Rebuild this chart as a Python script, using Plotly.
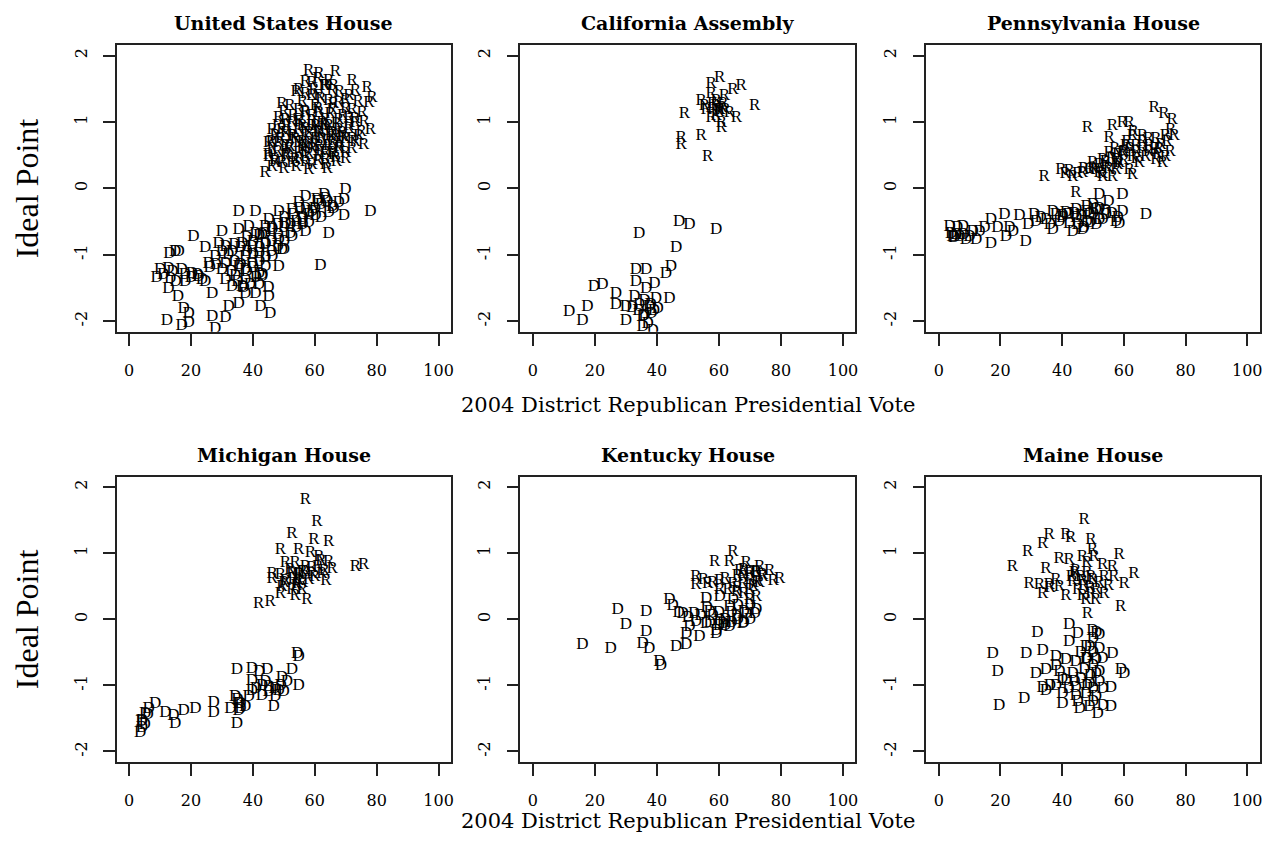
import plotly.graph_objects as go

# ---------------- data (x = 2004 district Republican presidential vote, y = ideal point) ----------------
us_r_x = [58.0, 61.3, 66.7, 64.5, 72.1, 76.9, 73.1, 54.8, 59.7, 57.0, 65.6, 69.9, 78.5, 77.5, 49.4, 48.3, 50.5,
          54.8, 60.2, 65.6, 72.1, 75.3, 78.0, 74.2, 75.8, 46.2, 47.2, 54.8, 59.1, 63.4, 67.7, 71.0, 45.1, 46.2,
          50.5, 54.8, 60.2, 65.6, 69.9, 45.1, 47.2, 50.5, 54.8, 59.1, 63.4, 67.7, 63.4, 66.7, 59.1, 63.4, 46.2,
          44.0, 49.4, 52.6, 57.0, 61.3, 54.8, 59.1, 63.4, 67.7, 52.6, 57.0, 65.6, 61.3, 50.5, 69.9, 72.1, 55.9,
          58.0, 60.2, 62.3, 64.5, 53.7, 55.9, 58.0, 62.3, 64.5, 66.7, 68.8, 51.6, 53.7, 57.0, 61.3, 65.6, 48.3,
          49.4, 52.6, 57.0, 61.3, 64.5, 67.7, 61.3, 63.4, 59.1, 71.0, 73.1, 68.2,
          52, 56, 62, 66, 70, 68, 63, 57, 61, 59, 53, 57, 61, 65, 69, 73, 51, 55, 59, 63, 67, 71, 75,
          49, 53, 57, 61, 65, 69, 73, 48, 52, 56, 60, 64, 68, 72, 47, 51, 55, 58, 62, 66, 70, 50, 54, 57, 61,
          64, 67, 46, 48, 50, 54, 66, 71, 74, 76, 45, 58]
us_r_y = [1.77, 1.72, 1.75, 1.62, 1.62, 1.52, 1.47, 1.49, 1.49, 1.42, 1.47, 1.34, 1.37, 1.29, 1.27, 1.07, 1.04,
          1.19, 1.24, 1.19, 1.19, 1.14, 0.89, 0.79, 0.66, 0.89, 0.79, 0.89, 0.94, 0.89, 0.89, 0.94, 0.69, 0.59,
          0.64, 0.69, 0.74, 0.69, 0.74, 0.48, 0.43, 0.48, 0.54, 0.59, 0.54, 0.59, 0.43, 0.46, 0.36, 0.36, 0.33,
          0.23, 0.38, 0.38, 0.79, 0.84, 1.04, 1.09, 1.04, 1.04, 0.79, 0.64, 0.84, 0.64, 0.84, 0.54, 0.74, 0.94,
          0.84, 0.94, 0.99, 0.94, 0.74, 0.59, 0.69, 0.74, 0.64, 0.79, 0.84, 0.59, 0.43, 0.48, 0.48, 0.54, 0.69,
          0.89, 0.99, 1.14, 1.14, 1.32, 1.29, 1.39, 1.54, 1.59, 1.07, 0.99, 0.69,
          1.25, 1.30, 1.35, 1.28, 1.20, 1.45, 1.55, 1.60, 1.65, 1.40, 1.10, 1.15, 1.20, 1.12, 1.10, 1.05, 0.95,
          1.00, 1.02, 0.96, 0.98, 0.90, 0.85, 0.75, 0.80, 0.90, 0.86, 0.80, 0.78, 0.70, 0.55, 0.62, 0.70, 0.66,
          0.72, 0.62, 0.60, 0.40, 0.50, 0.45, 0.52, 0.56, 0.50, 0.45, 0.30, 0.32, 0.40, 0.42, 0.30, 0.40, 0.70,
          0.95, 1.15, 1.45, 1.55, 1.40, 1.30, 1.00, 0.50, 0.28]
us_d_x = [69.9, 69.4, 67.7, 63.4, 60.7, 57.0, 54.8, 78.0, 69.4, 64.5, 59.1, 52.6, 48.3, 40.8, 35.4, 64.5, 57.0,
          50.5, 45.1, 44.0, 40.8, 35.4, 30.0, 20.8, 28.9, 24.6, 31.1, 36.5, 39.7, 44.0, 48.3, 52.6, 49.4, 46.2,
          41.9, 37.5, 33.2, 27.8, 25.7, 31.1, 35.4, 39.7, 44.0, 48.3, 61.8, 16.0, 14.9, 12.7, 10.0, 8.9, 13.3,
          17.0, 20.3, 18.1, 23.5, 24.6, 12.7, 15.8, 33.2, 37.5, 40.8, 41.9, 36.5, 26.8, 31.1, 37.5, 42.9, 45.1,
          35.4, 32.2, 42.4, 45.6, 17.6, 19.2, 12.2, 17.0, 19.2, 26.8, 31.1, 27.8, 50.0, 38.6, 42.9, 46.2, 55.9,
          60.2, 65.6, 41.9, 30.0, 22.4, 37.5, 34.3,
          36, 38, 40, 42, 44, 46, 48, 50, 52, 54, 56, 58, 60, 62, 64, 66, 40, 42, 44, 46, 48, 50, 52, 54, 56,
          58, 62, 38, 40, 42, 44, 46, 48, 50, 53, 55, 57, 61, 63, 32, 34, 36, 38, 33, 35, 37, 39, 41, 43, 28,
          26, 22, 20, 18, 15, 14, 11, 13, 45, 30, 34]
us_d_y = [-0.02, -0.17, -0.22, -0.15, -0.17, -0.12, -0.22, -0.35, -0.42, -0.37, -0.35, -0.32, -0.35, -0.35,
          -0.36, -0.68, -0.65, -0.53, -0.47, -0.58, -0.68, -0.63, -0.65, -0.73, -0.83, -0.90, -0.88, -0.83,
          -0.88, -0.83, -0.78, -0.73, -0.93, -1.03, -0.98, -1.03, -0.95, -1.03, -1.13, -1.13, -1.18, -1.13,
          -1.18, -1.18, -1.16, -0.95, -0.95, -1.21, -1.22, -1.34, -1.36, -1.23, -1.28, -1.41, -1.38, -1.41,
          -1.51, -1.64, -1.48, -1.59, -1.59, -1.46, -1.48, -1.59, -1.38, -1.38, -1.33, -1.64, -1.74, -1.79,
          -1.79, -1.89, -1.81, -1.89, -1.99, -2.07, -2.02, -1.94, -1.95, -2.12, -0.93, -0.58, -0.70, -0.63,
          -0.47, -0.42, -0.27, -1.28, -1.23, -1.33, -1.23, -1.31,
          -0.90, -0.95, -1.00, -0.90, -0.85, -0.80, -0.70, -0.60, -0.55, -0.50, -0.45, -0.40, -0.30, -0.25,
          -0.20, -0.30, -1.20, -1.10, -1.05, -0.95, -0.88, -0.80, -0.68, -0.60, -0.55, -0.52, -0.45, -0.75,
          -0.80, -0.72, -0.68, -0.60, -0.55, -0.45, -0.40, -0.30, -0.30, -0.20, -0.10, -1.00, -1.10, -1.15,
          -1.25, -1.25, -1.40, -1.50, -1.45, -1.35, -1.30, -1.15, -1.20, -1.30, -1.35, -1.30, -1.40, -1.25,
          -1.30, -0.98, -1.50, -0.95, -0.85]

ca_r_x = [60.2, 57.5, 64.5, 67.2, 71.5, 54.3, 57.5, 59.1, 61.3, 55.9, 60.2, 63.4, 65.6, 57.5, 60.8, 60.8, 48.9,
          47.8, 47.8, 54.3, 56.4, 55.3, 61.8, 59.1, 58, 59, 60, 61, 58, 62]
ca_r_y = [1.67, 1.57, 1.49, 1.55, 1.24, 1.32, 1.42, 1.32, 1.27, 1.19, 1.19, 1.14, 1.07, 1.07, 0.99, 0.91, 1.12,
          0.76, 0.66, 0.79, 0.48, 1.24, 1.39, 1.09, 1.20, 1.25, 1.15, 1.22, 1.28, 1.18]
ca_d_x = [47.2, 50.5, 59.1, 34.3, 46.2, 44.5, 42.9, 36.5, 33.2, 39.2, 33.2, 22.4, 19.7, 26.8, 32.7, 36.5, 39.7,
          44.0, 26.8, 30.0, 34.3, 37.5, 40.2, 11.7, 17.6, 16.0, 30.0, 35.4, 37.0, 35.4, 38.1, 38.6,
          36, 38, 34, 36, 39, 32]
ca_d_y = [-0.50, -0.55, -0.63, -0.68, -0.90, -1.18, -1.28, -1.23, -1.23, -1.43, -1.41, -1.46, -1.48, -1.59,
          -1.64, -1.51, -1.66, -1.66, -1.76, -1.79, -1.76, -1.79, -1.81, -1.86, -1.79, -1.99, -1.99, -1.94,
          -2.04, -2.09, -1.89, -2.14, -1.70, -1.75, -1.85, -1.92, -1.85, -1.80]

pa_r_x = [69.8, 73.0, 75.7, 75.2, 76.3, 48.2, 56.3, 59.5, 61.7, 55.2, 62.8, 66.0, 70.4, 73.5, 63.9, 68.2, 71.4,
          59.5, 62.8, 67.1, 70.4, 73.5, 72.5, 55.2, 57.4, 53.1, 49.9, 48.8, 46.6, 39.6, 42.3, 43.4, 34.2, 50.9,
          54.2, 57.4, 61.7, 62.8, 44.5, 53.1, 56.3, 58.5, 65.0, 60.6, 52.0,
          50, 52, 54, 56, 58, 60, 62, 64, 66, 68, 70, 72, 74, 66, 64, 60, 58, 55, 53, 47, 45, 41, 63, 68, 71,
          75, 57, 61]
pa_r_y = [1.22, 1.12, 1.04, 0.89, 0.79, 0.91, 0.94, 0.99, 0.99, 0.76, 0.79, 0.79, 0.74, 0.79, 0.64, 0.64, 0.59,
          0.54, 0.48, 0.48, 0.43, 0.48, 0.38, 0.54, 0.43, 0.43, 0.38, 0.28, 0.23, 0.28, 0.26, 0.18, 0.18, 0.28,
          0.33, 0.28, 0.28, 0.21, -0.07, 0.18, 0.18, 0.38, 0.38, 0.64, 0.23,
          0.30, 0.35, 0.40, 0.45, 0.50, 0.55, 0.60, 0.55, 0.60, 0.55, 0.60, 0.65, 0.70, 0.70, 0.45, 0.42, 0.35,
          0.30, 0.22, 0.30, 0.22, 0.22, 0.85, 0.75, 0.50, 0.55, 0.60, 0.70]
pa_d_x = [52.0, 59.5, 67.1, 59.5, 57.4, 58.5, 54.2, 50.9, 47.9, 44.5, 41.2, 36.9, 39.0, 42.3, 47.9, 52.0, 46.6,
          43.4, 36.9, 31.5, 30.9, 26.1, 21.3, 16.9, 22.9, 21.8, 28.2, 16.9, 13.2, 12.1, 8.8, 7.8, 3.5, 5.6, 4.5,
          6.7, 9.9, 14.8, 34.7, 40.1, 48.8, 44.5,
          40, 42, 44, 46, 48, 50, 52, 54, 56, 58, 45, 47, 49, 51, 53, 38, 36, 33, 29, 24, 19, 11, 6, 4, 5, 8,
          50, 55]
pa_d_y = [-0.10, -0.10, -0.40, -0.35, -0.50, -0.53, -0.40, -0.32, -0.27, -0.32, -0.37, -0.35, -0.50, -0.53,
          -0.50, -0.47, -0.63, -0.65, -0.63, -0.50, -0.40, -0.42, -0.40, -0.47, -0.60, -0.73, -0.80, -0.83,
          -0.65, -0.78, -0.78, -0.58, -0.58, -0.70, -0.73, -0.73, -0.73, -0.60, -0.47, -0.42, -0.40, -0.45,
          -0.45, -0.40, -0.38, -0.42, -0.35, -0.38, -0.30, -0.33, -0.38, -0.45, -0.55, -0.60, -0.52, -0.55,
          -0.48, -0.40, -0.55, -0.45, -0.55, -0.65, -0.60, -0.65, -0.60, -0.68, -0.75, -0.70, -0.25, -0.20]

mi_r_x = [57.0, 60.7, 52.6, 59.7, 64.5, 48.9, 54.8, 58.6, 61.3, 64.5, 65.6, 73.1, 75.8, 50.5, 53.7, 57.0, 46.2,
          48.9, 52.6, 55.9, 59.1, 62.3, 46.2, 50.5, 54.8, 63.6, 49.4, 52.6, 55.9, 48.9, 53.7, 57.5, 41.9, 45.6,
          54.8, 54.3, 53, 55, 57, 59, 61, 63, 56, 54, 58, 60, 52, 62, 50]
mi_r_y = [1.81, 1.48, 1.30, 1.20, 1.18, 1.05, 1.05, 1.00, 0.95, 0.87, 0.77, 0.79, 0.82, 0.85, 0.85, 0.79, 0.69,
          0.67, 0.69, 0.72, 0.69, 0.69, 0.62, 0.59, 0.59, 0.59, 0.49, 0.44, 0.44, 0.39, 0.36, 0.29, 0.24, 0.26,
          0.69, 0.54, 0.62, 0.68, 0.72, 0.78, 0.80, 0.74, 0.55, 0.50, 0.60, 0.65, 0.75, 0.88, 0.55]
mi_d_x = [54.3, 54.8, 34.8, 39.7, 44.6, 52.6, 49.4, 54.8, 39.7, 39.7, 42.9, 45.1, 48.3, 49.9, 47.2, 46.7, 37.5,
          35.4, 34.3, 38.6, 32.7, 27.3, 27.3, 21.4, 17.6, 14.3, 14.9, 11.7, 8.4, 6.3, 5.2, 4.1, 4.1, 3.6, 34.8,
          35.4, 41, 43, 45, 47, 49, 51, 36, 36, 35, 42, 44, 5, 4, 6]
mi_d_y = [-0.52, -0.57, -0.77, -0.75, -0.77, -0.77, -0.88, -1.00, -0.93, -1.08, -1.15, -1.10, -1.08, -1.10,
          -1.18, -1.33, -1.33, -1.28, -1.18, -1.18, -1.36, -1.26, -1.41, -1.36, -1.38, -1.46, -1.58, -1.41,
          -1.28, -1.36, -1.43, -1.53, -1.64, -1.71, -1.58, -1.38, -1.05, -1.00, -1.02, -1.05, -1.00, -0.95,
          -1.28, -1.35, -1.22, -0.80, -0.95, -1.60, -1.55, -1.45]

ky_r_x = [64.5, 58.6, 63.4, 68.8, 73.1, 76.4, 79.6, 77.5, 72.1, 69.9, 66.7, 52.6, 52.6, 56.4, 60.2, 64.5, 67.7,
          72.1, 65.6, 69.9, 72.1, 69.9, 60.2, 67.7, 74.2, 62, 66, 68, 70, 72, 74, 70, 66, 68, 71, 73, 63, 58,
          55]
ky_r_y = [1.02, 0.87, 0.87, 0.85, 0.79, 0.74, 0.62, 0.59, 0.72, 0.69, 0.74, 0.64, 0.52, 0.54, 0.59, 0.54, 0.54,
          0.57, 0.42, 0.44, 0.34, 0.29, 0.44, 0.64, 0.64, 0.62, 0.66, 0.75, 0.72, 0.70, 0.68, 0.60, 0.48, 0.38,
          0.50, 0.55, 0.45, 0.55, 0.60]
ky_d_x = [27.3, 36.5, 30.0, 36.5, 16.0, 25.1, 35.4, 37.5, 40.8, 41.3, 46.2, 49.4, 49.4, 53.7, 44.0, 45.1, 48.3,
          52.0, 55.9, 57.0, 60.2, 60.2, 63.4, 65.6, 68.8, 71.5, 67.7, 63.4, 59.1, 55.9, 52.6, 61.3, 64.5, 50.5,
          59.1, 58, 60, 62, 64, 66, 68, 70, 72, 66, 62, 64, 60, 57, 54, 50, 47, 56, 68, 70]
ky_d_y = [0.14, 0.11, -0.09, -0.19, -0.39, -0.45, -0.37, -0.45, -0.65, -0.70, -0.42, -0.39, -0.22, -0.27, 0.29,
          0.21, 0.09, 0.09, 0.31, 0.11, 0.34, -0.02, 0.19, 0.04, 0.09, 0.09, -0.07, -0.12, -0.17, -0.07, -0.04,
          -0.07, 0.29, -0.12, -0.22, 0.05, 0.10, 0.00, -0.05, 0.00, 0.12, 0.20, 0.15, 0.20, -0.10, 0.10, -0.10,
          -0.05, 0.05, 0.02, 0.10, 0.18, -0.05, 0.00]

me_r_x = [47.1, 35.8, 41.2, 42.8, 33.7, 49.3, 28.8, 49.8, 58.5, 23.9, 34.7, 39.0, 42.3, 46.6, 50.4, 53.1, 56.3,
          63.3, 60.1, 29.3, 32.6, 35.8, 33.7, 39.1, 43.4, 46.6, 49.3, 53.6, 56.8, 41.2, 46.6, 49.3, 53.6, 47.7,
          50.9, 59.0, 48.2, 44.4, 44, 46, 48, 50, 52, 45, 47, 49, 51, 43, 38, 36, 55, 48]
me_r_y = [1.50, 1.28, 1.28, 1.23, 1.15, 1.20, 1.02, 1.05, 0.97, 0.79, 0.77, 0.92, 0.90, 0.95, 0.95, 0.82, 0.79,
          0.69, 0.54, 0.54, 0.52, 0.52, 0.39, 0.49, 0.57, 0.59, 0.64, 0.64, 0.64, 0.36, 0.36, 0.39, 0.39, 0.29,
          0.29, 0.19, 0.09, 0.74, 0.70, 0.65, 0.70, 0.60, 0.55, 0.45, 0.50, 0.48, 0.45, 0.65, 0.60, 0.48, 0.50,
          0.85]
me_d_x = [42.3, 32.0, 45.0, 49.8, 52.0, 17.5, 28.3, 33.7, 42.3, 48.8, 52.0, 56.3, 38.0, 41.2, 44.4, 47.7, 50.9,
          19.1, 31.5, 34.7, 39.1, 43.4, 47.1, 50.9, 59.0, 60.1, 33.7, 38.0, 41.2, 44.4, 48.8, 53.1, 55.8, 34.7,
          40.1, 44.4, 47.7, 50.9, 19.6, 27.7, 40.1, 45.7, 48.8, 53.1, 55.8, 51.5, 47.7,
          46, 48, 50, 52, 46, 44, 42, 48, 50, 52, 50, 50, 51, 38, 40, 36, 45, 50, 53, 49]
me_d_y = [-0.09, -0.21, -0.22, -0.17, -0.24, -0.52, -0.52, -0.47, -0.34, -0.42, -0.45, -0.52, -0.57, -0.62,
          -0.65, -0.60, -0.62, -0.80, -0.83, -0.77, -0.80, -0.83, -0.77, -0.83, -0.77, -0.83, -1.03, -1.00,
          -0.93, -1.03, -0.98, -1.05, -1.03, -1.08, -1.13, -1.15, -1.13, -1.18, -1.31, -1.21, -1.28, -1.36,
          -1.33, -1.31, -1.33, -1.43, -0.42,
          -0.50, -0.60, -0.70, -0.80, -0.90, -0.95, -1.05, -1.00, -1.05, -0.95, -0.30, -0.50, -0.20, -0.70,
          -0.90, -1.00, -1.25, -1.25, -0.60, -0.85]

titles = ["United States House", "California Assembly", "Pennsylvania House",
          "Michigan House", "Kentucky House", "Maine House"]
x_ticks = [0, 20, 40, 60, 80, 100]
y_ticks = [-2, -1, 0, 1, 2]
y_tick_labels = ["-2", "-1", "0", "1", "2"]
x_title = "2004 District Republican Presidential Vote"
y_title = "Ideal Point"

panels = [
    (us_r_x, us_r_y, us_d_x, us_d_y),
    (ca_r_x, ca_r_y, ca_d_x, ca_d_y),
    (pa_r_x, pa_r_y, pa_d_x, pa_d_y),
    (mi_r_x, mi_r_y, mi_d_x, mi_d_y),
    (ky_r_x, ky_r_y, ky_d_x, ky_d_y),
    (me_r_x, me_r_y, me_d_x, me_d_y),
]

# ---------------- layout (page pixels; page body has an 8px default margin) ----------------
OFF = 8
W, H = 1277 - 2 * OFF, 843 - 2 * OFF
col_px = [(117, 452), (521.7, 857.4), (928.6, 1262.6)]
row_px = [(45, 331.7), (476.5, 762)]


def fx(px):
    return (px - OFF) / W


def fy(py):
    return 1 - (py - OFF) / H


xdom = [[fx(a), fx(b)] for a, b in col_px]
ydom = [[fy(b), fy(a)] for a, b in row_px]

mark_font = dict(family="Liberation Serif", size=17, color="black")
tick_font = dict(family="DejaVu Serif", size=16, color="black")

fig = go.Figure()
annotations = []
for i, (rx, ry, dx, dy) in enumerate(panels):
    r, c = divmod(i, 3)
    sfx = "" if i == 0 else str(i + 1)
    for xs, ys, letter in ((dx, dy, "D"), (rx, ry, "R")):
        fig.add_trace(go.Scatter(
            x=xs, y=ys, mode="text", text=[letter] * len(xs),
            textposition="middle center", textfont=mark_font,
            xaxis="x" + sfx, yaxis="y" + sfx, showlegend=False, hoverinfo="skip"))
    common = dict(showline=True, mirror=True, linecolor="#222222", linewidth=1.7,
                  ticks="outside", ticklen=12, tickwidth=1.6, tickcolor="#222222",
                  showgrid=False, zeroline=False, tickfont=tick_font, fixedrange=True)
    fig.layout["xaxis" + sfx] = dict(domain=xdom[c], range=[-4, 104], anchor="y" + sfx,
                                     tickvals=x_ticks, ticklabelstandoff=11, **common)
    fig.layout["yaxis" + sfx] = dict(domain=ydom[r], range=[-2.16, 2.16], anchor="x" + sfx,
                                     tickvals=y_ticks, ticktext=y_tick_labels, tickangle=-90,
                                     ticklabelstandoff=10, **common)
    annotations.append(dict(text="<b>" + titles[i] + "</b>",
                            x=(xdom[c][0] + xdom[c][1]) / 2, y=fy(row_px[r][0] - 22),
                            xref="paper", yref="paper", showarrow=False,
                            xanchor="center", yanchor="middle",
                            font=dict(family="DejaVu Serif", size=19, color="black")))

for r in range(2):
    annotations.append(dict(text=y_title, x=fx(27), y=fy((row_px[r][0] + row_px[r][1]) / 2),
                            xref="paper", yref="paper", showarrow=False, textangle=-90,
                            xanchor="center", yanchor="middle",
                            font=dict(family="Liberation Serif", size=32, color="black")))
annotations.append(dict(text=x_title, x=(xdom[1][0] + xdom[1][1]) / 2, y=fy(row_px[0][1] + 73),
                        xref="paper", yref="paper", showarrow=False,
                        xanchor="center", yanchor="middle",
                        font=dict(family="DejaVu Serif", size=21, color="black")))
annotations.append(dict(text=x_title, x=(xdom[1][0] + xdom[1][1]) / 2, y=0,
                        xref="paper", yref="paper", showarrow=False,
                        xanchor="center", yanchor="bottom",
                        font=dict(family="DejaVu Serif", size=21, color="black")))

fig.update_layout(width=W, height=H, margin=dict(l=0, r=0, t=0, b=0),
                  paper_bgcolor="white", plot_bgcolor="white", annotations=annotations)

fig.write_html("out.html")
